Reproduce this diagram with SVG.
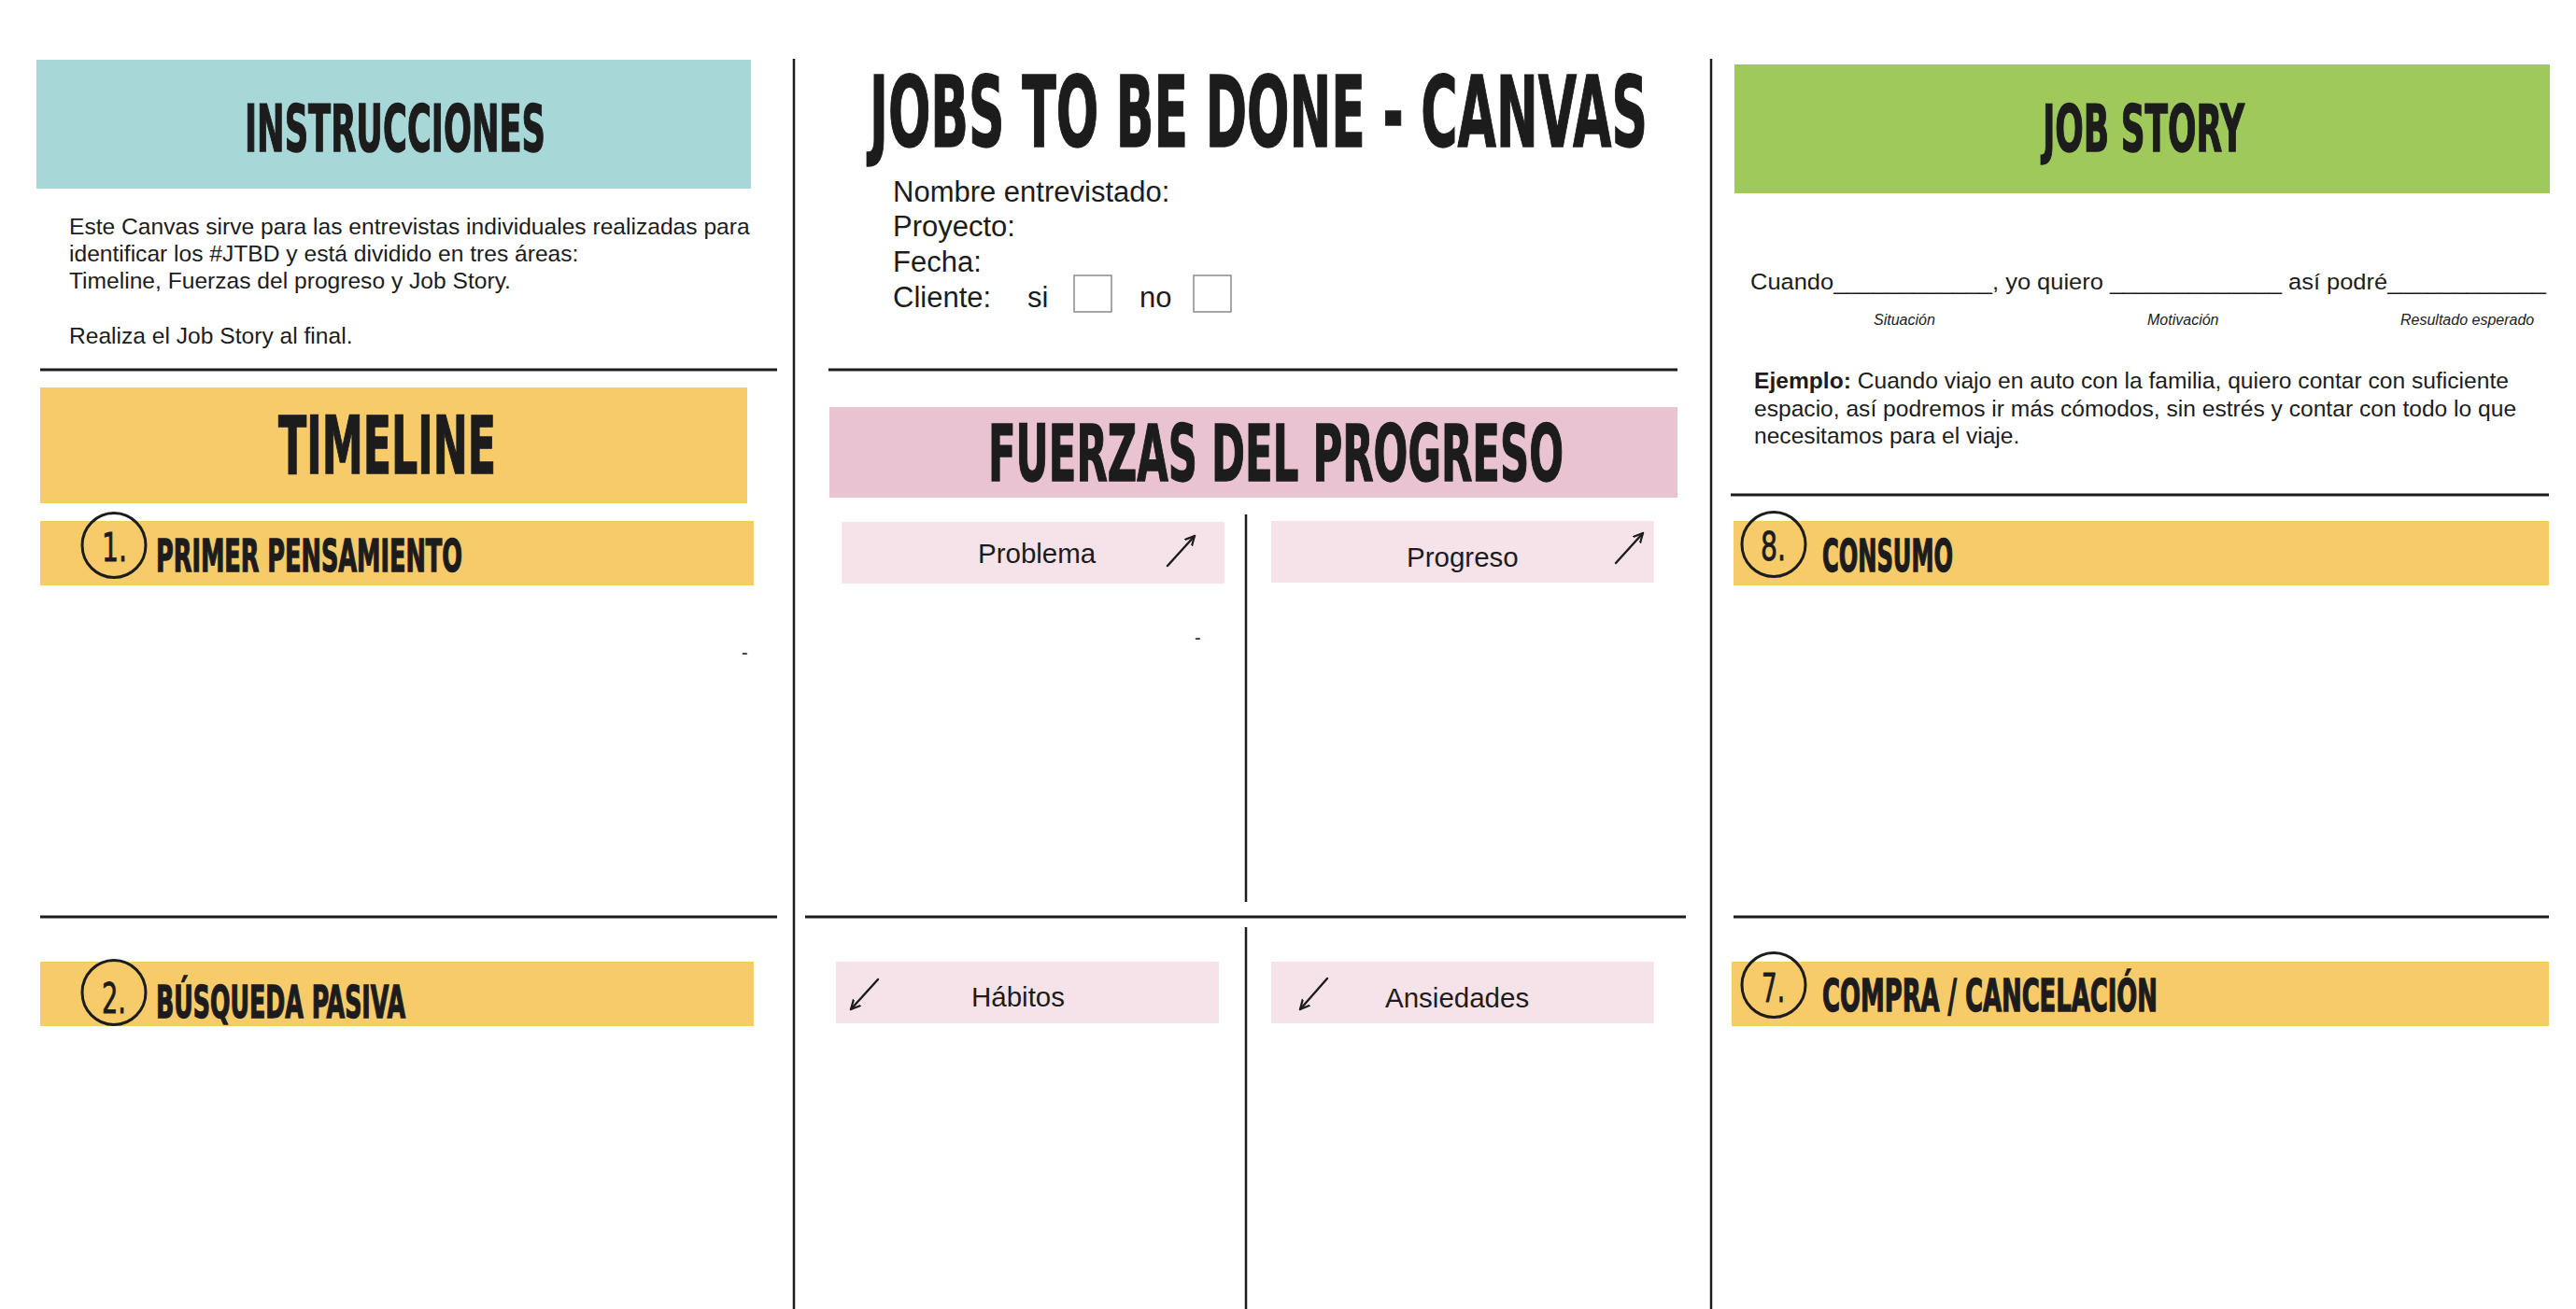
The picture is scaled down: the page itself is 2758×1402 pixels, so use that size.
<svg xmlns="http://www.w3.org/2000/svg" width="2758" height="1402" viewBox="0 0 2758 1402">
<defs>
<style>
.bg{fill:#ffffff}
.teal{fill:#a7d8d7}
.yel{fill:#f7cb6a}
.grn{fill:#a0c95b}
.pnk{fill:#eac3d2}
.lpk{fill:#f6e3ea}
.head{font-family:'Liberation Sans Narrow','DejaVu Sans Condensed','Liberation Sans',sans-serif;font-weight:bold;fill:#1c1c1c;stroke:#1c1c1c;stroke-width:1.4}
.num{font-family:'Liberation Sans Narrow','DejaVu Sans Condensed','Liberation Sans',sans-serif;fill:#1c1c1c;stroke:#1c1c1c;stroke-width:0.8}
.body{font-family:'Liberation Sans',Arial,sans-serif;fill:#1c1c1c}
.rule{stroke:#1c1c1c;stroke-width:3;fill:none}
.vrule{stroke:#1c1c1c;stroke-width:2.5;fill:none}
.ring{fill:none;stroke:#1c1c1c;stroke-width:3}
.box{fill:#ffffff;stroke:#8a8a8a;stroke-width:1.5}
.arr{fill:none;stroke:#1c1c1c;stroke-width:2.4;stroke-linecap:round;marker-end:url(#ah)}
</style>
<marker id="ah" viewBox="0 0 12 12" refX="10" refY="6" markerWidth="12" markerHeight="12" markerUnits="userSpaceOnUse" orient="auto">
<path d="M0,1 L10,6 L0,11" fill="none" stroke="#1c1c1c" stroke-width="2.2" stroke-linecap="round" stroke-linejoin="round"/>
</marker>
</defs>
<rect class="bg" x="0" y="0" width="2758" height="1402"/>

<g id="dividers">
<line class="vrule" x1="850" y1="63" x2="850" y2="1402"/>
<line class="vrule" x1="1832" y1="63" x2="1832" y2="1402"/>
<line class="vrule" x1="1334" y1="551" x2="1334" y2="966"/>
<line class="vrule" x1="1334" y1="993" x2="1334" y2="1402"/>
<line class="rule" x1="43" y1="396" x2="832" y2="396"/>
<line class="rule" x1="887" y1="396" x2="1796" y2="396"/>
<line class="rule" x1="1853" y1="530" x2="2729" y2="530"/>
<line class="rule" x1="43" y1="982" x2="832" y2="982"/>
<line class="rule" x1="862" y1="982" x2="1805" y2="982"/>
<line class="rule" x1="1856" y1="982" x2="2729" y2="982"/>
</g>

<g id="instrucciones">
<rect class="teal" x="39" y="64" width="765" height="138"/>
<text class="head" transform="translate(262,162) scale(0.6,1)" x="0" y="0" font-size="70" textLength="536.7" lengthAdjust="spacingAndGlyphs">INSTRUCCIONES</text>
<text class="body" font-size="24.6">
<tspan x="74" y="251">Este Canvas sirve para las entrevistas individuales realizadas para</tspan>
<tspan x="74" y="280">identificar los #JTBD y está dividido en tres áreas:</tspan>
<tspan x="74" y="309">Timeline, Fuerzas del progreso y Job Story.</tspan>
<tspan x="74" y="368">Realiza el Job Story al final.</tspan>
</text>
</g>

<g id="titulo">
<text class="head" transform="translate(931,157) scale(0.6,1)" x="0" y="0" font-size="105" textLength="1388.3" lengthAdjust="spacingAndGlyphs">JOBS TO BE DONE - CANVAS</text>
<text class="body" font-size="31" x="956" y="216">Nombre entrevistado:</text>
<text class="body" font-size="31" x="956" y="253">Proyecto:</text>
<text class="body" font-size="31" x="956" y="291">Fecha:</text>
<text class="body" font-size="31" x="956" y="329">Cliente:</text>
<text class="body" font-size="31" x="1100" y="329">si</text>
<rect class="box" x="1150" y="295" width="40" height="39"/>
<text class="body" font-size="31" x="1220" y="329">no</text>
<rect class="box" x="1278" y="295" width="40" height="39"/>
</g>

<g id="job-story">
<rect class="grn" x="1857" y="69" width="873" height="138"/>
<text class="head" transform="translate(2187,162) scale(0.6,1)" x="0" y="0" font-size="70" textLength="360" lengthAdjust="spacingAndGlyphs">JOB STORY</text>
<text class="body" font-size="24.5" x="1874" y="310" textLength="852" lengthAdjust="spacingAndGlyphs">Cuando____________, yo quiero _____________ así podré____________</text>
<text class="body" font-size="16" font-style="italic" x="2006" y="348">Situación</text>
<text class="body" font-size="16" font-style="italic" x="2299" y="348">Motivación</text>
<text class="body" font-size="16" font-style="italic" x="2570" y="348">Resultado esperado</text>
<text class="body" font-size="24.6">
<tspan x="1878" y="416"><tspan font-weight="bold">Ejemplo:</tspan> Cuando viajo en auto con la familia, quiero contar con suficiente</tspan>
<tspan x="1878" y="446">espacio, así podremos ir más cómodos, sin estrés y contar con todo lo que</tspan>
<tspan x="1878" y="475">necesitamos para el viaje.</tspan>
</text>
</g>

<g id="timeline">
<rect class="yel" x="43" y="415" width="757" height="124"/>
<text class="head" transform="translate(298,507) scale(0.6,1)" x="0" y="0" font-size="86" textLength="388.3" lengthAdjust="spacingAndGlyphs">TIMELINE</text>
</g>

<g id="primer-pensamiento">
<rect class="yel" x="43" y="558" width="764" height="69"/>
<ellipse class="ring" cx="122" cy="584" rx="34" ry="34.5"/>
<text class="num" transform="translate(109,601) scale(0.6,1)" x="0" y="0" font-size="42" textLength="45" lengthAdjust="spacingAndGlyphs">1.</text>
<text class="head" transform="translate(167,612) scale(0.6,1)" x="0" y="0" font-size="48" textLength="546.7" lengthAdjust="spacingAndGlyphs">PRIMER PENSAMIENTO</text>
<text class="body" font-size="20" x="794" y="706">-</text>
</g>

<g id="busqueda-pasiva">
<rect class="yel" x="43" y="1030" width="764" height="69"/>
<ellipse class="ring" cx="122" cy="1063" rx="34" ry="34.5"/>
<text class="num" transform="translate(109,1085) scale(0.6,1)" x="0" y="0" font-size="44" textLength="43.3" lengthAdjust="spacingAndGlyphs">2.</text>
<text class="head" transform="translate(167,1090) scale(0.6,1)" x="0" y="0" font-size="48" textLength="445" lengthAdjust="spacingAndGlyphs">BÚSQUEDA PASIVA</text>
</g>

<g id="fuerzas">
<rect class="pnk" x="888" y="436" width="908" height="97"/>
<text class="head" transform="translate(1058,515) scale(0.6,1)" x="0" y="0" font-size="84" textLength="1026.7" lengthAdjust="spacingAndGlyphs">FUERZAS DEL PROGRESO</text>
</g>

<g id="problema">
<rect class="lpk" x="901" y="559" width="410" height="66"/>
<text class="body" font-size="29.5" x="1047" y="603">Problema</text>
<path class="arr" d="M1250,606 L1279,574"/>
<text class="body" font-size="20" x="1279" y="690">-</text>
</g>

<g id="progreso">
<rect class="lpk" x="1361" y="558" width="410" height="66"/>
<text class="body" font-size="29.5" x="1506" y="607">Progreso</text>
<path class="arr" d="M1730,603 L1759,571"/>
</g>

<g id="habitos">
<rect class="lpk" x="895" y="1030" width="410" height="66"/>
<text class="body" font-size="29.5" x="1040" y="1078">Hábitos</text>
<path class="arr" d="M940,1049 L911,1081"/>
</g>

<g id="ansiedades">
<rect class="lpk" x="1361" y="1030" width="410" height="66"/>
<text class="body" font-size="29.5" x="1483" y="1079">Ansiedades</text>
<path class="arr" d="M1421,1048 L1392,1081"/>
</g>

<g id="consumo">
<rect class="yel" x="1856" y="558" width="873" height="69"/>
<ellipse class="ring" cx="1899" cy="583" rx="34" ry="34.5"/>
<text class="num" transform="translate(1885,600) scale(0.6,1)" x="0" y="0" font-size="42" textLength="45" lengthAdjust="spacingAndGlyphs">8.</text>
<text class="head" transform="translate(1951,612) scale(0.6,1)" x="0" y="0" font-size="48" textLength="233.3" lengthAdjust="spacingAndGlyphs">CONSUMO</text>
</g>

<g id="compra-cancelacion">
<rect class="yel" x="1854" y="1030" width="875" height="69"/>
<ellipse class="ring" cx="1899" cy="1055" rx="34" ry="34.5"/>
<text class="num" transform="translate(1886,1073) scale(0.6,1)" x="0" y="0" font-size="42" textLength="41.7" lengthAdjust="spacingAndGlyphs">7.</text>
<text class="head" transform="translate(1951,1083) scale(0.6,1)" x="0" y="0" font-size="48" textLength="598.3" lengthAdjust="spacingAndGlyphs">COMPRA / CANCELACIÓN</text>
</g>
</svg>
